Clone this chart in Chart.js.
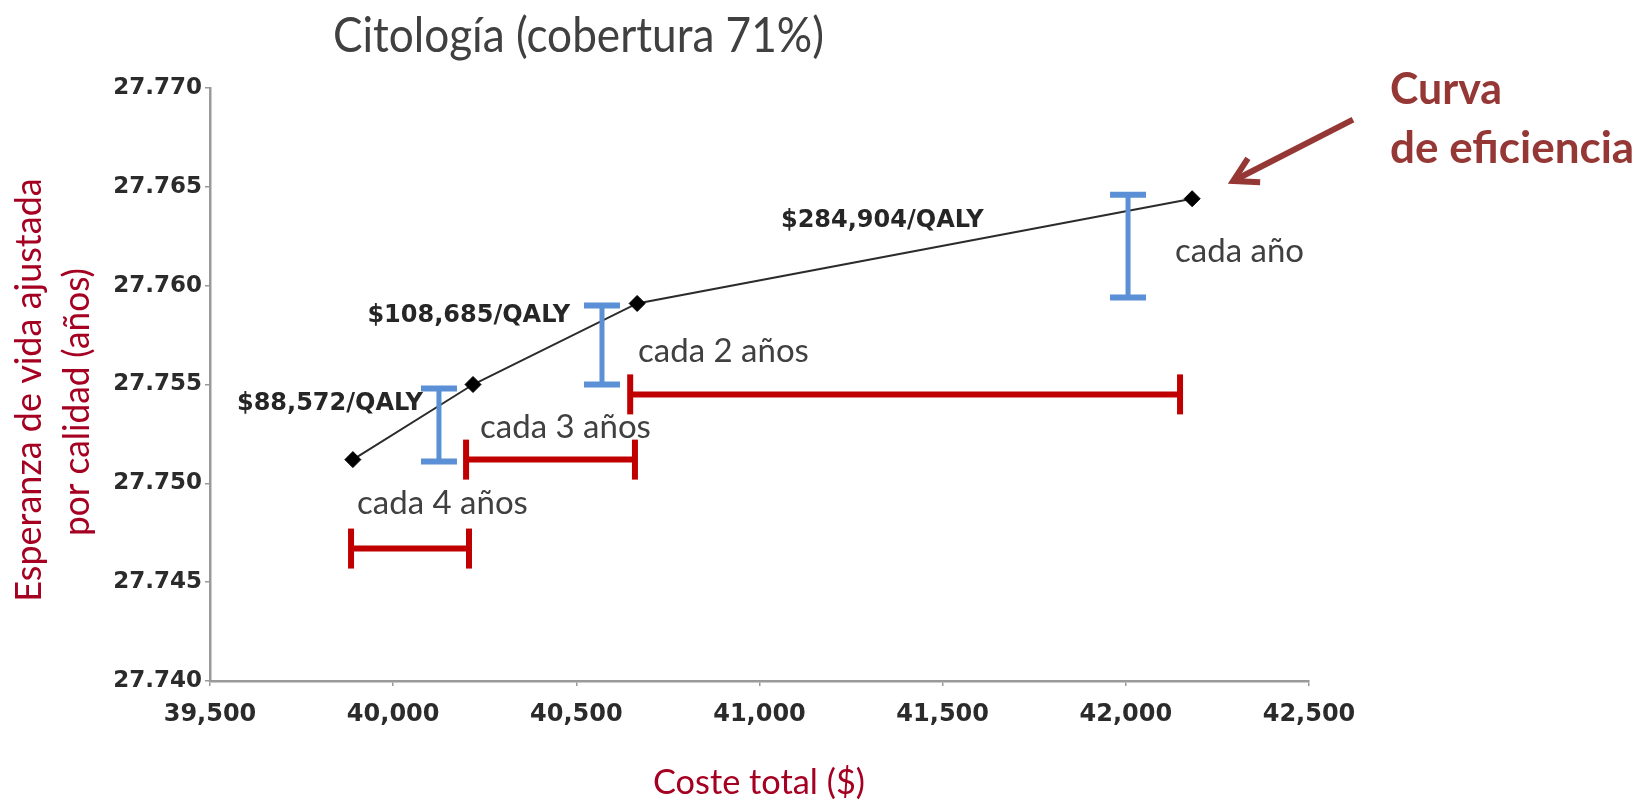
<!DOCTYPE html>
<html lang="es">
<head>
<meta charset="utf-8">
<title>Citología (cobertura 71%)</title>
<script src="https://cdn.jsdelivr.net/npm/chart.js@4.4.1/dist/chart.umd.min.js"></script>
<style>
  html, body { margin: 0; padding: 0; background: #fff; }
  #wrap { width: 1648px; height: 803px; }
</style>
</head>
<body>
<div id="wrap"><canvas id="chart" width="1648" height="803"></canvas></div>
<script>
// Efficiency frontier: cost ($) vs quality-adjusted life expectancy (years)
const costs = [39890, 40218, 40666, 42181];
const qalys = [27.7512, 27.7550, 27.7591, 27.7644];
const icerLabels = ['$88,572/QALY', '$108,685/QALY', '$284,904/QALY'];

// Screening intervals
const intervals = ['cada 4 años', 'cada 3 años', 'cada 2 años', 'cada año'];

// Blue bars: QALY gain between strategies
const gainX = [40125, 40570, 42006];
const gainLow = [27.7511, 27.7550, 27.7594];
const gainHigh = [27.7548, 27.7590, 27.7646];

// Red bars: cost increase between strategies
const costBarY = [27.7467, 27.7512, 27.7545];
const costFrom = [39885, 40199, 40647];
const costTo = [40207, 40660, 42148];

// Arrow to the frontier (data units)
const arrowTail = [42620, 27.7684];
const arrowTip = [42293, 27.7653];

// Axis ticks
const xTickValues = [39500, 40000, 40500, 41000, 41500, 42000, 42500];
const yTickValues = [27.740, 27.745, 27.750, 27.755, 27.760, 27.765, 27.770];

const titleText = 'Citología (cobertura 71%)';
const yTitle = ['Esperanza de vida ajustada', 'por calidad (años)'];
const xTitle = 'Coste total ($)';
const calloutText = ['Curva', 'de eficiencia'];

const BLUE = '#5b8fd6';
const RED = '#c00000';
const DARKRED = '#953735';
const AXISRED = '#a50021';

const datasets = [{
    data: costs.map((c, i) => ({ x: c, y: qalys[i] })),
    showLine: true,
    borderColor: '#2b2b2b',
    borderWidth: 2,
    pointStyle: 'rectRot',
    pointRadius: 8,
    pointBackgroundColor: '#000',
    pointBorderColor: '#000',
    pointBorderWidth: 1,
    order: 10
}];

gainX.forEach((gx, i) => {
    datasets.push({
        data: [{ x: gx, y: gainLow[i] }, { x: gx, y: gainHigh[i] }],
        showLine: true,
        borderColor: BLUE,
        borderWidth: 5,
        pointStyle: 'line',
        pointRadius: 18,
        pointBorderColor: BLUE,
        pointBorderWidth: 6,
        order: 0
    });
});

costFrom.forEach((cf, i) => {
    datasets.push({
        data: [{ x: cf, y: costBarY[i] }, { x: costTo[i], y: costBarY[i] }],
        showLine: true,
        borderColor: RED,
        borderWidth: 6,
        pointStyle: 'line',
        pointRadius: 20,
        pointRotation: 90,
        pointBorderColor: RED,
        pointBorderWidth: 6,
        order: 0
    });
});

// Texts and arrow drawn on top of the chart
const annotations = {
    id: 'annotations',
    afterDraw(chart) {
        const { ctx, scales: { x, y } } = chart;
        ctx.save();
        ctx.textBaseline = 'alphabetic';

        // title
        ctx.fillStyle = '#404040';
        ctx.font = '48px Lato';
        ctx.textAlign = 'left';
        ctx.fillText(titleText, 333, 52, 491);

        // y axis title (two rotated lines)
        ctx.fillStyle = AXISRED;
        ctx.font = '36px Lato';
        ctx.textAlign = 'center';
        [[41, 390, 432], [89, 402, 268]].forEach(([tx, ty, w], i) => {
            ctx.save();
            ctx.translate(tx, ty);
            ctx.rotate(-Math.PI / 2);
            ctx.fillText(yTitle[i], 0, 0, w);
            ctx.restore();
        });

        // x axis title
        ctx.font = '35px Lato';
        ctx.fillText(xTitle, 759, 794, 212);

        // ICER labels near segment midpoints
        ctx.fillStyle = '#262626';
        ctx.font = 'bold 24px "DejaVu Sans"';
        ctx.textAlign = 'right';
        const offs = [[10, -12], [15, -22], [69, -24]];
        icerLabels.forEach((lbl, i) => {
            const mx = (x.getPixelForValue(costs[i]) + x.getPixelForValue(costs[i + 1])) / 2;
            const my = (y.getPixelForValue(qalys[i]) + y.getPixelForValue(qalys[i + 1])) / 2;
            ctx.fillText(lbl, mx + offs[i][0], my + offs[i][1], 205);
        });

        // interval labels
        ctx.fillStyle = '#404040';
        ctx.font = '33px Lato';
        ctx.textAlign = 'left';
        const pos = [[357, 514, 177], [480, 438, 178], [638, 362, 174], [1175, 262, 137]];
        intervals.forEach((t, i) => ctx.fillText(t, pos[i][0], pos[i][1], pos[i][2]));

        // callout
        ctx.fillStyle = DARKRED;
        ctx.font = 'bold 44px Lato';
        ctx.fillText(calloutText[0], 1390, 104, 112);
        ctx.fillText(calloutText[1], 1390, 163, 247);

        // arrow
        const x0 = x.getPixelForValue(arrowTail[0]), y0 = y.getPixelForValue(arrowTail[1]);
        const x1 = x.getPixelForValue(arrowTip[0]), y1 = y.getPixelForValue(arrowTip[1]);
        const ang = Math.atan2(y0 - y1, x0 - x1);
        ctx.strokeStyle = DARKRED;
        ctx.lineWidth = 6;
        ctx.lineCap = 'butt';
        ctx.beginPath();
        ctx.moveTo(x0, y0);
        ctx.lineTo(x1 + Math.cos(ang) * 3, y1 + Math.sin(ang) * 3);
        ctx.stroke();
        ctx.lineJoin = 'miter';
        ctx.beginPath();
        ctx.moveTo(x1 + Math.cos(ang - 0.52) * 27, y1 + Math.sin(ang - 0.52) * 27);
        ctx.lineTo(x1, y1);
        ctx.lineTo(x1 + Math.cos(ang + 0.52) * 27, y1 + Math.sin(ang + 0.52) * 27);
        ctx.stroke();

        ctx.restore();
    }
};

function build() {
    new Chart(document.getElementById('chart'), {
        type: 'scatter',
        data: { datasets: datasets },
        options: {
            responsive: false,
            animation: false,
            layout: { padding: { left: 0, right: 339, top: 88, bottom: 0 } },
            plugins: { legend: { display: false }, tooltip: { enabled: false } },
            scales: {
                x: {
                    type: 'linear',
                    min: 39500,
                    max: 42500,
                    afterBuildTicks: s => { s.ticks = xTickValues.map(v => ({ value: v })); },
                    afterFit: s => { s.height = 122; },
                    ticks: {
                        callback: v => v.toLocaleString('en-US'),
                        color: '#2b2b2b',
                        font: { family: 'DejaVu Sans', weight: 'bold', size: 24 },
                        padding: 14,
                        maxRotation: 0,
                        autoSkip: false
                    },
                    grid: { drawOnChartArea: false, color: '#999', tickLength: 5, lineWidth: 1.5 },
                    border: { color: '#9a9a9a', width: 2.5 }
                },
                y: {
                    type: 'linear',
                    min: 27.740,
                    max: 27.770,
                    afterBuildTicks: s => { s.ticks = yTickValues.map(v => ({ value: v })); },
                    afterFit: s => { s.width = 210; },
                    ticks: {
                        callback: v => v.toFixed(3),
                        color: '#2b2b2b',
                        font: { family: 'DejaVu Sans', weight: 'bold', size: 23 },
                        padding: 3,
                        autoSkip: false
                    },
                    grid: { drawOnChartArea: false, color: '#999', tickLength: 5, lineWidth: 1.5 },
                    border: { color: '#9a9a9a', width: 2.5 }
                }
            }
        },
        plugins: [annotations]
    });
}

Promise.all([
    document.fonts.load('48px Lato'),
    document.fonts.load('bold 44px Lato'),
    document.fonts.load('bold 22px "DejaVu Sans"')
]).then(build, build);
</script>
</body>
</html>
